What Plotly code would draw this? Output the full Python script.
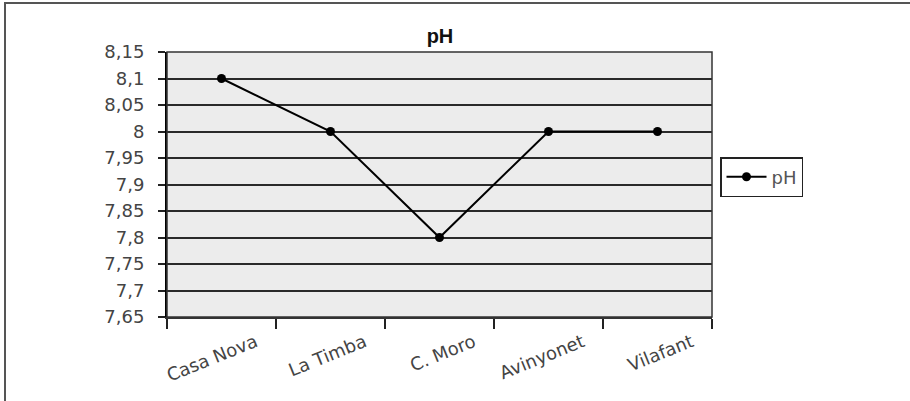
import plotly.graph_objects as go

# pH values per sampling site
sites = ["Casa Nova", "La Timba", "C. Moro", "Avinyonet", "Vilafant"]
ph_values = [8.1, 8.0, 7.8, 8.0, 8.0]

# y-axis ticks with comma decimal labels
y_ticks = [7.65, 7.7, 7.75, 7.8, 7.85, 7.9, 7.95, 8.0, 8.05, 8.1, 8.15]
y_tick_labels = ["7,65", "7,7", "7,75", "7,8", "7,85", "7,9", "7,95", "8", "8,05", "8,1", "8,15"]

W, H = 910, 401
L, R, T, B = 167, 712, 52, 317  # plot area in pixels

fig = go.Figure()
fig.add_trace(go.Scatter(
    x=sites, y=ph_values, name="pH", mode="lines+markers",
    line=dict(color="black", width=2),
    marker=dict(color="black", size=9),
))

pw, ph = R - L, B - T

def px_x(p):
    return (p - L) / pw

def px_y(p):
    return (B - p) / ph

FONT = "DejaVu Sans, Arial, sans-serif"

fig.update_layout(
    width=W, height=H,
    margin=dict(l=L, r=W - R, t=T, b=H - B),
    paper_bgcolor="white",
    plot_bgcolor="#ececec",
    font=dict(family=FONT, color="#444", size=18),
    title=dict(text="<b>pH</b>", x=440 / W, xanchor="center",
               y=1 - 36 / H, yanchor="middle",
               font=dict(size=20, color="#111", family="Liberation Sans, Arial, sans-serif")),
    showlegend=True,
    legend=dict(x=px_x(720), y=px_y(157), xanchor="left", yanchor="top",
                bordercolor="#222", borderwidth=1.5, bgcolor="white",
                font=dict(size=18, color="#555"), itemwidth=40),
    xaxis=dict(
        type="category", range=[-0.5, 4.5], tickson="boundaries",
        showgrid=False, ticks="outside", ticklen=10, tickwidth=2, tickcolor="#222",
        tickangle=-22, tickfont=dict(size=18, color="#444"),
        ticklabelshift=34, ticklabelstandoff=6,
        showline=True, linecolor="#333", linewidth=2,
    ),
    yaxis=dict(
        range=[7.65, 8.15], tickvals=y_ticks, ticktext=y_tick_labels,
        showgrid=True, gridcolor="#2a2a2a", gridwidth=2,
        ticks="outside", ticklen=7, tickwidth=2, tickcolor="#222",
        showline=True, linecolor="black", linewidth=2,
        tickfont=dict(size=18, color="#444"), zeroline=False,
        ticklabelstandoff=10,
    ),
    shapes=[
        # plot area frame
        dict(type="rect", xref="paper", yref="paper", x0=0, x1=1, y0=0, y1=1,
             line=dict(color="#333", width=1.5), layer="above"),
        # outer chart frame
        dict(type="rect", xref="paper", yref="paper",
             x0=px_x(5), x1=px_x(930), y0=px_y(420), y1=px_y(3),
             line=dict(color="#555", width=2)),
    ],
)

fig.write_html("out.html")
